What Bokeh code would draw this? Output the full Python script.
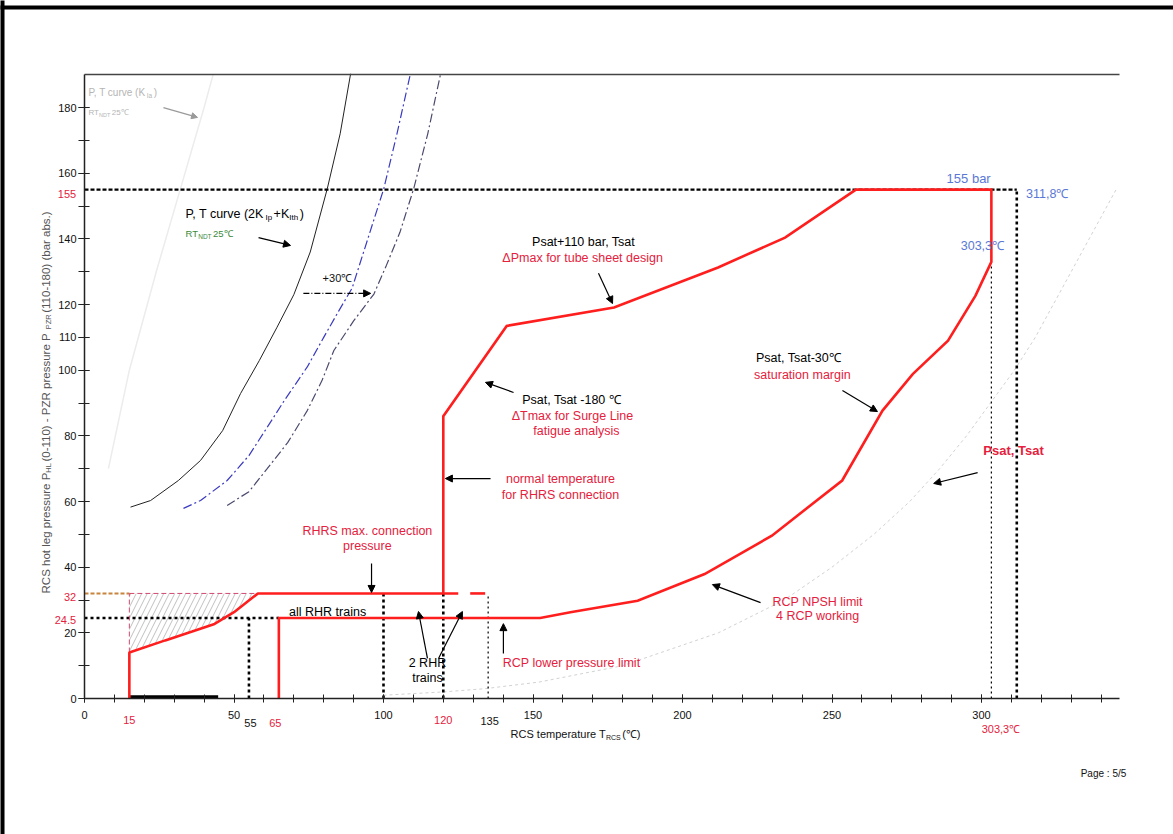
import math
from bokeh.plotting import figure
from bokeh.models import FixedTicker, Label, Arrow, NormalHead, BoxAnnotation, LinearAxis
from bokeh.embed import file_html
from bokeh.resources import INLINE

# ---------------- data ----------------
x_major_ticks = [0, 50, 100, 150, 200, 250, 300]
x_minor_ticks = list(range(0, 350, 10))
y_major_ticks = [0, 20, 40, 60, 80, 100, 110, 120, 140, 160, 180]
y_minor_ticks = list(range(0, 190, 10))

# red operating-domain boundary (lower-left part, single RHR)
low_t = [15, 15, 27, 36, 43.5, 50, 58, 125]
low_p = [0, 14, 17.7, 20.4, 22.7, 26.3, 32, 32]
low_dash_t = [129, 134]
low_dash_p = [32, 32]
# red main domain boundary
main_t = [65, 65, 152.4, 162.5, 185, 207.4, 229.9, 253.4, 266.9, 277, 288.8, 298, 303.3,
          303.3, 258, 234.3, 211.9, 177.1, 141.2, 120, 120]
main_p = [0, 24.5, 24.5, 26.3, 29.8, 37.9, 49.6, 66.4, 87.7, 98.8, 109, 122.7, 133,
          155, 155, 140.4, 131.3, 119.1, 113.5, 86, 32]
# hatched zone
hatch_t = [15, 27, 36, 43.5, 50, 58, 15]
hatch_p = [14, 17.7, 20.4, 22.7, 26.3, 32, 32]

# P,T curve (2K_Ip + K_Ith), black
pt_t = [15.4, 22.1, 31.4, 38.8, 46.2, 52.2, 58.5, 64.4, 70, 75.5, 81.2, 85.5, 89]
pt_p = [58.3, 60.3, 66.4, 72.5, 81.6, 92.9, 103, 113.1, 123, 136, 155.3, 172, 190.3]
# blue dash-dot curve
blue_t = [33.1, 38.8, 47.7, 55, 61.1, 67, 74.5, 80, 85, 89.5, 93, 96.5, 100.1, 104.5, 109]
blue_p = [57.9, 60.3, 66.4, 74, 82.6, 91, 101, 110, 118, 125, 135, 145, 155.3, 172, 190.3]
# +30 C shifted curve (dark dash-dot)
shift_t = [47.7, 55, 61.1, 68, 74.5, 79.5, 83.4, 90, 96.8, 101, 105.5, 110.1, 114.8, 119.1]
shift_p = [58.8, 63, 70, 78, 87.7, 97, 106, 115, 123.2, 132, 142, 155.3, 172, 190.3]
# faint P,T curve (K_Ia)
kia_t = [8, 15, 24, 32, 40, 43]
kia_p = [70, 100, 130, 155, 180, 190]
# faint saturation curve Psat, Tsat
sat_t = [100, 120, 134, 152, 180, 212, 234, 250, 264, 276, 286, 295, 303, 311, 318, 324, 330, 336, 342, 345]
sat_p = [1, 2, 3, 5, 10, 20, 30, 40, 50, 60, 70, 80, 90, 100, 110, 120, 130, 140, 150, 155]

# reference values
p_design = 155
p_rhrs = 32
p_rcp = 24.5
t_sat155 = 311.8
t_303 = 303.3
t_vlines_heavy = [55, 100, 120]
t_vlines_heavy_top = [24.5, 32, 32]
t_135 = 135
bar_t = [15, 44.7]
bar_p = [0.5, 0.5]

# ---------------- figure: frame covers whole page, axes fixed at 0 ----------------
W, H = 1173, 834
X0, Y0, SX, SY = 84, 698, 2.99, 3.283     # pixel position of origin, px per unit
p = figure(width=W, height=H,
           x_range=(-X0 / SX, (W - X0) / SX), y_range=(-(H - Y0) / SY, Y0 / SY),
           output_backend="svg", toolbar_location=None, min_border=0,
           min_border_left=0, min_border_right=0, min_border_top=0, min_border_bottom=0)
p.outline_line_color = None
p.xgrid.visible = False
p.ygrid.visible = False
p.background_fill_color = "white"
p.border_fill_color = "white"

FONT = "Liberation Sans"
RED = "#e5213d"
BLUE = "#5a78d6"

for ax in (p.xaxis, p.yaxis):
    ax.axis_line_color = "#222222"
    ax.axis_line_width = 1.5
    ax.major_tick_line_color = "#222222"
    ax.minor_tick_line_color = "#222222"
    ax.major_label_text_font = FONT
    ax.major_label_text_font_size = "11px"
    ax.major_label_text_color = "#111111"

p.xaxis.fixed_location = 0
p.xaxis.bounds = (0, 346)
p.xaxis.ticker = FixedTicker(ticks=x_major_ticks, minor_ticks=x_minor_ticks)
p.xaxis.major_tick_in = 4
p.xaxis.major_tick_out = 4
p.xaxis.minor_tick_in = 4
p.xaxis.minor_tick_out = 4
p.xaxis.major_label_standoff = 8

p.yaxis.fixed_location = 0
p.yaxis.bounds = (0, 190)
p.yaxis.ticker = FixedTicker(ticks=y_major_ticks, minor_ticks=y_minor_ticks)
p.yaxis.major_tick_in = 5
p.yaxis.major_tick_out = 6
p.yaxis.minor_tick_in = 5
p.yaxis.minor_tick_out = 6
p.yaxis.major_label_standoff = 2

top_axis = LinearAxis(fixed_location=190, bounds=(0, 346), ticker=FixedTicker(ticks=[], minor_ticks=[]),
                      axis_line_color="#444444", axis_line_width=1.5,
                      major_tick_line_color=None, minor_tick_line_color=None)
p.add_layout(top_axis, "above")

# page frame (left and top)
p.add_layout(BoxAnnotation(left=-40, right=-26.75, bottom=-100, top=300,
                           fill_color="black", fill_alpha=1, line_color=None))
p.add_layout(BoxAnnotation(left=-40, right=400, bottom=209.9, top=211.1,
                           fill_color="black", fill_alpha=1, line_color=None))

# ---------------- faint curves ----------------
p.line(kia_t, kia_p, line_color="#ececec", line_width=1.5)
p.line(sat_t, sat_p, line_color="#d2d2d2", line_width=1, line_dash="3 3")

# ---------------- P,T curves ----------------
p.line(pt_t, pt_p, line_color="#222222", line_width=1)
p.line(blue_t, blue_p, line_color="#3a3ac0", line_width=1.2, line_dash="9 3 2 3")
p.line(shift_t, shift_p, line_color="#4a4a6e", line_width=1.2, line_dash="9 3 2 3")

# ---------------- hatch ----------------
p.patch(hatch_t, hatch_p, fill_color=None, line_color=None, hatch_pattern="/",
        hatch_color="#8a8a8a", hatch_weight=0.6, hatch_scale=11, hatch_alpha=0.9)

# ---------------- dotted reference lines ----------------
HD = dict(line_color="black", line_width=2.6, line_dash="3 3")
TD = dict(line_color="black", line_width=1.2, line_dash="2 3")
p.line([0, t_sat155], [p_design, p_design], line_color="black", line_width=2.4, line_dash="4 2")
p.line([t_sat155, t_sat155], [0, p_design], **HD)
p.line([t_303, t_303], [0, 133], **TD)
p.line([0, 65], [p_rcp, p_rcp], **HD)
for tv, top in zip(t_vlines_heavy, t_vlines_heavy_top):
    p.line([tv, tv], [0, top], **HD)
p.line([t_135, t_135], [0, p_rhrs], **TD)
p.line([0, 15], [p_rhrs, p_rhrs], line_color="#c8843c", line_width=2, line_dash="4 2")
p.line([15, 58], [p_rhrs, p_rhrs], line_color="#d04a70", line_width=1, line_dash="5 3")
p.line([15, 15], [14, p_rhrs], line_color="#d04a70", line_width=1, line_dash="5 3")
p.line(bar_t, bar_p, line_color="black", line_width=3)

# ---------------- red boundaries ----------------
p.line(low_t, low_p, line_color="#ff1e1e", line_width=2.6)
p.line(low_dash_t, low_dash_p, line_color="#ff1e1e", line_width=2.6)
p.line(main_t, main_p, line_color="#ff1e1e", line_width=2.6, line_join="miter")

# ---------------- text helpers ----------------
AW = {' ': 278, '!': 278, '(': 333, ')': 333, '+': 584, ',': 278, '-': 333, '.': 278, '/': 278,
      ':': 278, '℃': 1000, 'Δ': 668}
for c in "0123456789":
    AW[c] = 556
AW.update(dict(zip("ABCDEFGHIJKLMNOPQRSTUVWXYZ",
                   [667, 667, 722, 722, 667, 611, 778, 722, 278, 500, 667, 556, 833, 722, 778,
                    667, 778, 722, 667, 611, 722, 667, 944, 667, 667, 611])))
AW.update(dict(zip("abcdefghijklmnopqrstuvwxyz",
                   [556, 556, 500, 556, 556, 278, 556, 556, 222, 222, 500, 222, 833, 556, 556,
                    556, 556, 333, 500, 278, 556, 500, 722, 500, 500, 500])))


def tw(s, size):
    return sum(AW.get(c, 556) for c in s) * size / 1000.0


def txt(x, y, s, color="black", size=12.5, align="center", bold=False, angle=0):
    p.add_layout(Label(x=x, y=y, text=s, text_font=FONT, text_font_size=f"{size}px",
                       text_color=color, text_align=align, text_baseline="middle",
                       text_font_style="bold" if bold else "normal", angle=angle))


def rich(x, y, parts, color="black", align="left", angle=0):
    total = sum(tw(t, s) + (1.5 if sub else 0) for t, s, sub in parts)
    off = 0 if align == "left" else -total / 2
    for t, s, sub in parts:
        shift = 0.28 * parts[0][1] if sub else 0
        if angle == 0:
            xo, yo = off, -shift
        else:
            xo, yo = shift, off
        p.add_layout(Label(x=x, y=y, text=t, text_font=FONT, text_font_size=f"{s}px",
                           text_color=color, text_align="left", text_baseline="middle",
                           angle=angle, x_offset=xo, y_offset=yo))
        off += tw(t, s) + (1.5 if sub else 0)


def arrow(x0, y0, x1, y1, color="black", dash="solid", size=7):
    p.add_layout(Arrow(x_start=x0, y_start=y0, x_end=x1, y_end=y1, line_color=color,
                       line_width=1.2, line_dash=dash,
                       end=NormalHead(size=size, fill_color=color, line_color=color)))


# axis titles
rich(142.5, -10.9, [("RCS temperature T", 11, False), ("RCS", 7, True), (" (℃)", 11, False)],
     color="#111111")
rich(-13.0, 32.0, [("RCS hot leg pressure P", 11.5, False), ("HL", 7.5, True),
                   (" (0-110) - PZR pressure P", 11.5, False), ("PZR", 7.5, True),
                   (" (110-180)  (bar abs.)", 11.5, False)],
     color="#555555", angle=math.pi / 2)

# special axis labels
txt(-2.8, 31.0, "32", RED, 11, align="right")
txt(-2.8, 24.0, "24.5", RED, 11, align="right")
txt(-2.8, 153.8, "155", RED, 11, align="right")
txt(15, -6.7, "15", RED, 11)
txt(55.5, -7.6, "55", "#111111", 11)
txt(63.8, -7.6, "65", RED, 11)
txt(120, -6.7, "120", RED, 11)
txt(135.5, -6.9, "135", "#111111", 11)
txt(306.5, -9.4, "303,3℃", RED, 11)
txt(340.8, -22.8, "Page : 5/5", "#111111", 10)

# curve legends
rich(1.3, 184.6, [("P, T curve (K", 10, False), ("Ia", 6.5, True), (")", 10, False)], color="#b5b5b5")
rich(1.3, 178.5, [("RT", 8, False), ("NDT", 5.5, True), (" 25℃", 8, False)], color="#b5b5b5")
arrow(26.4, 180.0, 37.8, 177.0, color="#9a9a9a", size=6)

rich(33.8, 147.7, [("P, T curve (2K", 12.5, False), ("Ip", 8, True), ("+K", 12.5, False),
                   ("Ith", 8, True), (")", 12.5, False)])
rich(33.8, 141.6, [("RT", 9.5, False), ("NDT", 6.5, True), (" 25℃", 9.5, False)], color="#3a8a3a")
arrow(58.2, 140.4, 68.9, 138.0)

txt(84.6, 128.2, "+30℃", "#111111", 11)
arrow(73.2, 123.4, 95.7, 123.4, dash="6 2 1 2")

# annotations
txt(166.9, 138.9, "Psat+110 bar, Tsat")
txt(166.6, 134.3, "ΔPmax for tube sheet design", RED)
arrow(171.9, 129.5, 176.6, 120.3)

txt(162.9, 90.8, "Psat, Tsat -180 ℃")
txt(163.2, 86.2, "ΔTmax for Surge Line", RED)
txt(164.5, 81.6, "fatigue analysis", RED)
arrow(143.5, 93.2, 134.1, 96.3)

txt(159.2, 67.0, "normal temperature", RED)
txt(159.2, 62.1, "for RHRS connection", RED)
arrow(135.8, 67.0, 120.7, 67.0)

txt(94.6, 50.9, "RHRS max. connection", RED)
txt(94.6, 46.3, "pressure", RED)
arrow(96.0, 41.1, 96.0, 32.3)

txt(81.3, 26.5, "all RHR trains")
txt(114.7, 10.7, "2 RHR")
txt(114.7, 6.1, "trains")
arrow(114.7, 12.2, 111.7, 26.5)
arrow(118.4, 12.2, 126.4, 26.5)

txt(162.9, 10.7, "RCP lower pressure limit", RED)
arrow(140.1, 13.7, 140.1, 22.8)

txt(245.2, 29.5, "RCP NPSH limit", RED)
txt(245.2, 25.0, "4 RCP working", RED)
arrow(226.1, 29.2, 210.0, 34.7)

txt(238.8, 103.6, "Psat, Tsat-30℃")
txt(240.1, 98.4, "saturation margin", RED)
arrow(253.5, 93.8, 265.2, 87.4)

txt(310.7, 75.5, "Psat, Tsat", RED, 13, bold=True)
arrow(298.7, 68.8, 284.0, 65.5)

txt(295.7, 158.4, "155 bar", BLUE, 13)
txt(322.0, 153.8, "311,8℃", BLUE, 12.5)
txt(300.3, 137.7, "303,3℃", BLUE, 12.5)

open("out.html", "w").write(file_html(p, INLINE))
